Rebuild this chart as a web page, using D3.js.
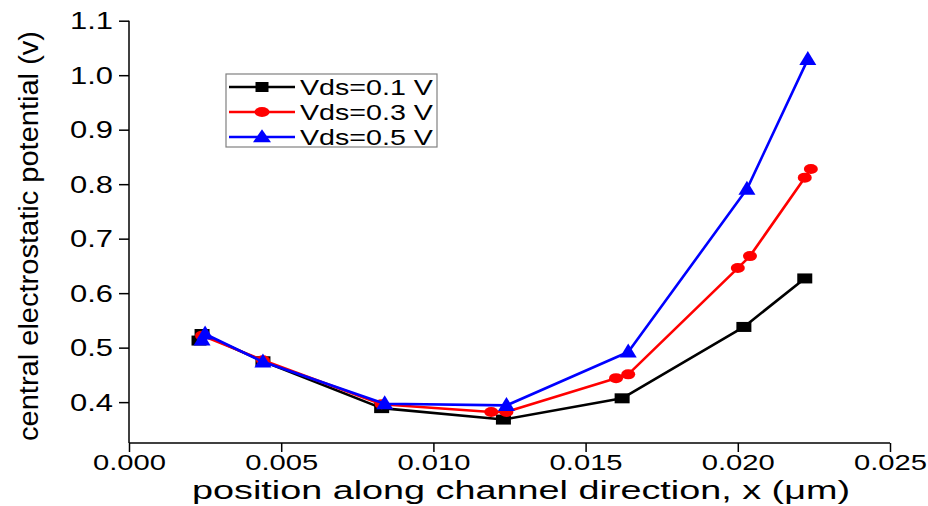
<!DOCTYPE html>
<html>
<head>
<meta charset="utf-8">
<script src="https://cdn.jsdelivr.net/npm/d3@7"></script>
<style>
  html, body { margin: 0; padding: 0; background: #fff; }
  svg { display: block; }
  text { font-family: Arial, "Liberation Sans", sans-serif; fill: #000; }
</style>
</head>
<body>
<svg id="chart" width="928" height="506"></svg>
<script>
// Central electrostatic potential along the channel for three drain biases
const seriesNames = ["Vds=0.1 V", "Vds=0.3 V", "Vds=0.5 V"];
const seriesColors = ["#000000", "#ff0000", "#0000ff"];
const seriesShapes = ["square", "circle", "triangle"];

const vds01 = [
  [0.0023, 0.513], [0.0024, 0.525], [0.0044, 0.475], [0.0083, 0.389],
  [0.0123, 0.368], [0.0162, 0.407], [0.0202, 0.538], [0.0222, 0.627]
];
const vds03 = [
  [0.0024, 0.522], [0.0044, 0.477], [0.0083, 0.396], [0.0119, 0.382],
  [0.0124, 0.382], [0.0160, 0.444], [0.0164, 0.451], [0.0200, 0.646],
  [0.0204, 0.668], [0.0222, 0.812], [0.0224, 0.828]
];
const vds05 = [
  [0.0024, 0.514], [0.0025, 0.525], [0.0044, 0.474], [0.0084, 0.397],
  [0.0124, 0.394], [0.0164, 0.492], [0.0203, 0.791], [0.0223, 1.029]
];
const seriesData = [vds01, vds03, vds05];

const xTicks = [0.000, 0.005, 0.010, 0.015, 0.020, 0.025];
const yTicks = [0.4, 0.5, 0.6, 0.7, 0.8, 0.9, 1.0, 1.1];

const xTitle = "position along channel direction, x (\u03bcm)";
const yTitle = "central electrostatic potential (v)";

const svg = d3.select("#chart");

const x = d3.scaleLinear().domain([0, 0.025]).range([129, 890]);
const y = d3.scaleLinear().domain([0.325, 1.1]).range([443, 20.7]);

// marker drawing helper: wide, slightly flattened symbols
function marker(sel, shape, w, h, color) {
  if (shape === "square") {
    sel.append("rect").attr("x", -w / 2).attr("y", -h / 2)
      .attr("width", w).attr("height", h).attr("fill", color);
  } else if (shape === "circle") {
    sel.append("ellipse").attr("rx", w / 2).attr("ry", h / 2).attr("fill", color);
  } else {
    sel.append("path")
      .attr("d", `M0,${-h * 0.6}L${w / 2},${h * 0.4}L${-w / 2},${h * 0.4}Z`)
      .attr("fill", color);
  }
}

// axes
const xAxis = d3.axisBottom(x).tickValues(xTicks).tickSize(9).tickFormat(d3.format(".3f"));
const yAxis = d3.axisLeft(y).tickValues(yTicks).tickSize(10).tickFormat(d3.format(".1f"));

const gx = svg.append("g").attr("transform", "translate(0,443)").call(xAxis);
gx.select(".domain").attr("d", `M${x.range()[0]},0H${x.range()[1]}`);
gx.selectAll("line").attr("stroke", "#000").attr("stroke-width", 1.5);
gx.select(".domain").attr("stroke", "#000").attr("stroke-width", 1.5);
gx.selectAll(".tick text")
  .attr("y", 11).attr("dy", "0.71em")
  .style("font-size", "22px")
  .attr("textLength", 73).attr("lengthAdjust", "spacingAndGlyphs");

const gy = svg.append("g").attr("transform", `translate(${x.range()[0]},0)`).call(yAxis);
gy.select(".domain").attr("d", `M0,${y.range()[1]}V${y.range()[0]}`)
  .attr("stroke", "#000").attr("stroke-width", 1.5);
gy.selectAll("line").attr("stroke", "#000").attr("stroke-width", 1.5);
gy.selectAll(".tick text")
  .attr("x", -16).attr("dy", "0.36em")
  .style("font-size", "23px")
  .attr("textLength", 43).attr("lengthAdjust", "spacingAndGlyphs");

// axis titles
svg.append("text")
  .attr("x", 521).attr("y", 499)
  .attr("text-anchor", "middle")
  .style("font-size", "26px")
  .attr("textLength", 658).attr("lengthAdjust", "spacingAndGlyphs")
  .text(xTitle);

svg.append("text")
  .attr("transform", "translate(38,236) rotate(-90)")
  .attr("text-anchor", "middle")
  .style("font-size", "27px")
  .attr("textLength", 410).attr("lengthAdjust", "spacingAndGlyphs")
  .text(yTitle);

// series lines and markers
const line = d3.line().x(d => x(d[0])).y(d => y(d[1]));

seriesData.forEach((data, i) => {
  const g = svg.append("g");
  g.append("path")
    .datum(data)
    .attr("d", line)
    .attr("fill", "none")
    .attr("stroke", seriesColors[i])
    .attr("stroke-width", 2.6)
    .attr("stroke-linejoin", "round");
  const sizes = [[15, 10], [14, 10], [17, 14]][i];
  g.selectAll("g.pt").data(data).enter().append("g")
    .attr("class", "pt")
    .attr("transform", d => `translate(${x(d[0])},${y(d[1])})`)
    .each(function () { marker(d3.select(this), seriesShapes[i], sizes[0], sizes[1], seriesColors[i]); });
});

// legend
const legend = svg.append("g");
legend.append("rect")
  .attr("x", 226).attr("y", 74).attr("width", 211).attr("height", 73)
  .attr("fill", "#fff").attr("stroke", "#808080").attr("stroke-width", 1.2);

const legendRows = [87, 112, 137];
seriesNames.forEach((name, i) => {
  const row = legend.append("g").attr("transform", `translate(0,${legendRows[i]})`);
  row.append("line").attr("x1", 229).attr("x2", 295)
    .attr("stroke", seriesColors[i]).attr("stroke-width", 2.6);
  const m = row.append("g").attr("transform", "translate(262,0)");
  const ls = [[13, 10], [15, 10], [18, 13]][i];
  marker(m, seriesShapes[i], ls[0], ls[1], seriesColors[i]);
  row.append("text")
    .attr("x", 300).attr("dy", "0.36em")
    .style("font-size", "22px")
    .attr("textLength", 133).attr("lengthAdjust", "spacingAndGlyphs")
    .text(name);
});
</script>
</body>
</html>
